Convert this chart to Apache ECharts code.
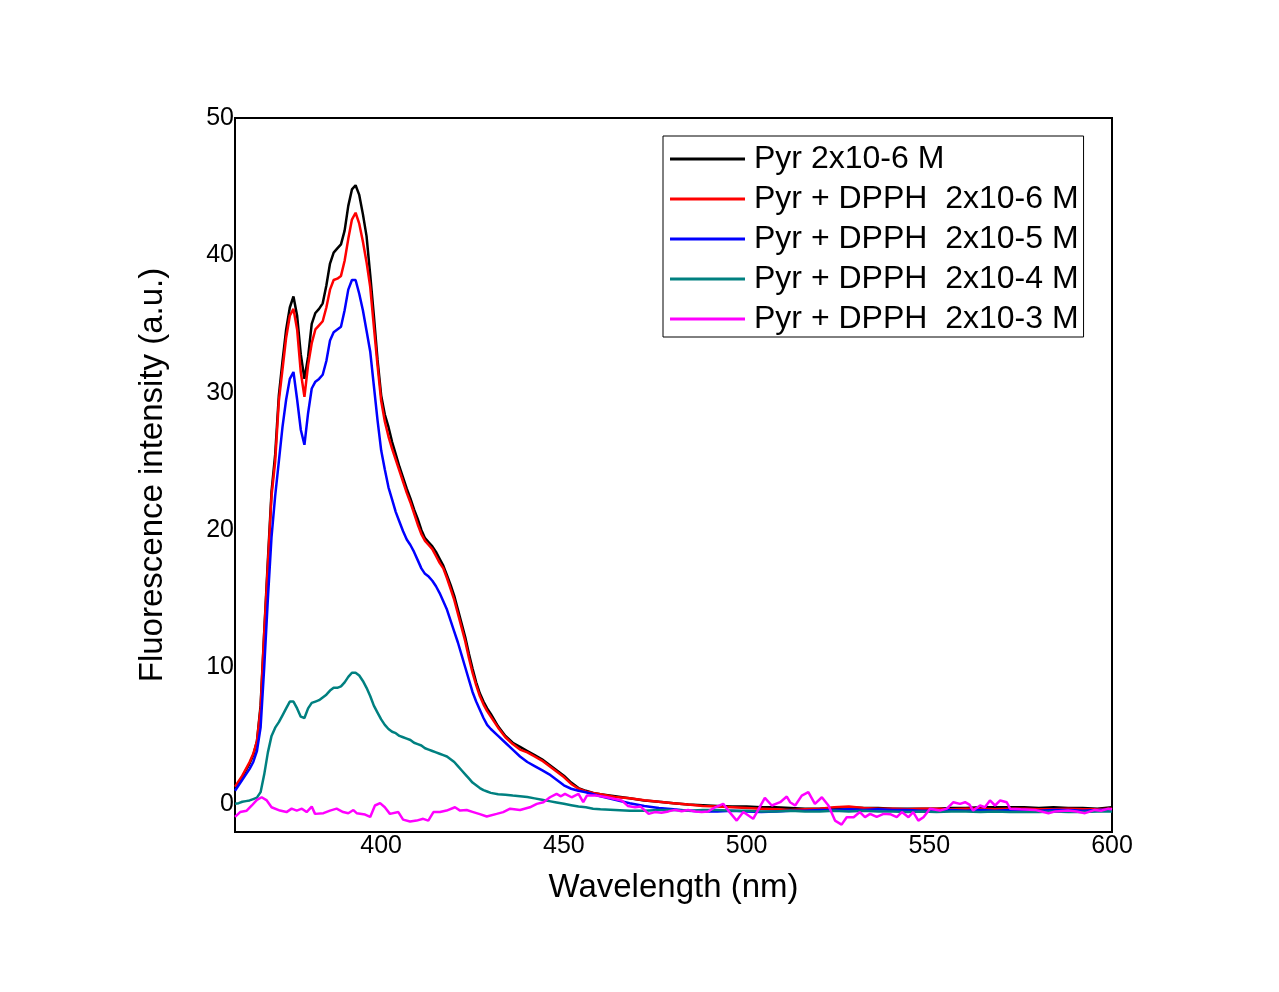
<!DOCTYPE html>
<html>
<head>
<meta charset="utf-8">
<script src="https://cdn.jsdelivr.net/npm/echarts@6/dist/echarts.min.js"></script>
<style>
  html, body { margin: 0; padding: 0; background: #fff; }
  #chart { width: 1279px; height: 992px; }
</style>
</head>
<body>
<div id="chart"></div>
<script>
// wavelength grid (nm) shared by the four smooth spectra
const wavelength = [
  360, 361, 362, 363, 364, 365, 366, 367, 368, 369,
  370, 371, 372, 373, 374, 375, 376, 377, 378, 379,
  380, 381, 382, 383, 384, 385, 386, 387, 388, 389,
  390, 391, 392, 393, 394, 395, 396, 397, 398, 399,
  400, 401, 402, 403, 404, 405, 406, 407, 408, 409,
  410, 411, 412, 413, 414, 415, 416, 417, 418, 419,
  420, 421, 422, 423, 424, 425, 426, 427, 428, 429, 430,
  432, 434, 436, 438, 440, 442, 444, 446, 448, 450, 452, 454, 456, 458, 460,
  464, 468, 472, 476, 480, 484, 488, 492, 496, 500, 504, 508, 512, 516, 520,
  524, 528, 532, 536, 540, 544, 548, 552, 556, 560, 564, 568, 572, 576, 580,
  584, 588, 592, 596, 600
]

const pyr = [
  1.2, 1.6, 2.0, 2.5, 3.0, 3.6, 4.6, 7.2, 12.6, 17.8,
  22.8, 25.5, 29.8, 32.3, 34.6, 36.2, 37.0, 35.6, 32.8, 31.0,
  32.6, 35.0, 35.8, 36.1, 36.5, 37.8, 39.4, 40.2, 40.5, 40.8,
  41.8, 43.6, 44.8, 45.1, 44.4, 43.0, 41.4, 38.6, 35.6, 32.4,
  29.8, 28.4, 27.5, 26.4, 25.5, 24.6, 23.8, 23.0, 22.3, 21.5,
  20.8, 20.0, 19.4, 19.1, 18.8, 18.4, 17.9, 17.4, 16.7, 16.0,
  15.2, 14.2, 13.2, 12.2, 11.0, 9.9, 8.9, 8.1, 7.5, 7.0, 6.6,
  5.7, 5.0, 4.5, 4.2, 3.9, 3.6, 3.3, 2.9, 2.5, 2.1, 1.6, 1.2, 1.0, 0.85, 0.75,
  0.6, 0.45, 0.3, 0.2, 0.1, 0.0, -0.05, -0.1, -0.15, -0.15, -0.2, -0.2, -0.25, -0.3, -0.3,
  -0.25, -0.2, -0.25, -0.25, -0.3, -0.3, -0.3, -0.3, -0.25, -0.25, -0.2, -0.2, -0.2, -0.2, -0.25,
  -0.2, -0.25, -0.25, -0.3, -0.2
]

const dpph6 = [
  1.3, 1.7, 2.1, 2.6, 3.1, 3.7, 4.6, 7.0, 12.5, 17.5,
  22.5, 25.0, 29.4, 31.7, 34.0, 35.6, 36.1, 34.6, 31.5, 29.7,
  32.0, 33.6, 34.6, 34.9, 35.2, 36.2, 37.5, 38.2, 38.3, 38.5,
  39.6, 41.2, 42.6, 43.1, 42.3, 41.0, 39.5, 37.7, 34.8, 32.0,
  29.4, 27.9, 26.8, 25.9, 25.1, 24.3, 23.5, 22.7, 22.0, 21.2,
  20.4, 19.7, 19.2, 18.9, 18.6, 18.1, 17.6, 17.2, 16.5, 15.7,
  14.9, 13.9, 12.9, 11.9, 10.7, 9.6, 8.7, 7.9, 7.3, 6.8, 6.4,
  5.6, 4.9, 4.4, 4.0, 3.8, 3.5, 3.2, 2.8, 2.4, 2.0, 1.5, 1.15, 0.95, 0.85, 0.75,
  0.55, 0.45, 0.32, 0.2, 0.1, 0.0, -0.1, -0.15, -0.2, -0.25, -0.3, -0.35, -0.4, -0.35, -0.3,
  -0.2, -0.15, -0.25, -0.3, -0.3, -0.35, -0.3, -0.3, -0.35, -0.3, -0.3, -0.35, -0.3, -0.3, -0.35,
  -0.35, -0.3, -0.35, -0.35, -0.3
]

const dpph5 = [
  1.0, 1.4, 1.8, 2.2, 2.6, 3.1, 3.9, 5.6, 10.0, 15.0,
  19.5, 22.5, 25.0, 27.5, 29.5, 31.0, 31.5, 29.5, 27.3, 26.2,
  28.5, 30.3, 30.8, 31.0, 31.3, 32.3, 33.8, 34.4, 34.6, 34.8,
  36.0, 37.5, 38.2, 38.2, 37.2, 36.0, 34.5, 33.0, 30.5, 28.0,
  25.8, 24.4, 23.1, 22.2, 21.3, 20.6, 19.9, 19.3, 18.9, 18.4,
  17.8, 17.2, 16.8, 16.6, 16.3, 15.9, 15.4, 14.8, 14.2, 13.4,
  12.6, 11.8, 10.9, 10.0, 9.1, 8.2, 7.5, 6.9, 6.3, 5.8, 5.5,
  5.0, 4.5, 4.0, 3.5, 3.1, 2.8, 2.5, 2.2, 1.8, 1.4, 1.15, 1.0, 0.9, 0.75, 0.6,
  0.35, 0.1, -0.1, -0.25, -0.35, -0.45, -0.5, -0.5, -0.45, -0.5, -0.55, -0.5, -0.45, -0.45, -0.4,
  -0.4, -0.35, -0.4, -0.35, -0.4, -0.4, -0.45, -0.45, -0.4, -0.45, -0.4, -0.45, -0.4, -0.4, -0.45,
  -0.4, -0.4, -0.45, -0.4, -0.35
]

const dpph4 = [
  0.05, 0.1, 0.2, 0.25, 0.3, 0.4, 0.5, 0.9, 2.2, 3.8,
  5.0, 5.6, 6.0, 6.5, 7.0, 7.5, 7.5, 7.0, 6.4, 6.3,
  7.0, 7.4, 7.5, 7.6, 7.8, 8.0, 8.3, 8.5, 8.5, 8.6,
  8.9, 9.3, 9.6, 9.6, 9.4, 9.0, 8.5, 7.9, 7.2, 6.7,
  6.2, 5.8, 5.5, 5.3, 5.2, 5.0, 4.9, 4.8, 4.7, 4.5,
  4.4, 4.3, 4.1, 4.0, 3.9, 3.8, 3.7, 3.6, 3.5, 3.3,
  3.1, 2.8, 2.5, 2.2, 1.9, 1.6, 1.4, 1.2, 1.05, 0.95, 0.85,
  0.75, 0.72, 0.65, 0.6, 0.55, 0.45, 0.35, 0.25, 0.15, 0.05, -0.05, -0.15, -0.2, -0.3, -0.35,
  -0.4, -0.45, -0.45, -0.4, -0.4, -0.45, -0.4, -0.4, -0.45, -0.45, -0.5, -0.5, -0.45, -0.5, -0.5,
  -0.45, -0.5, -0.45, -0.5, -0.5, -0.55, -0.5, -0.55, -0.5, -0.5, -0.55, -0.5, -0.55, -0.55, -0.55,
  -0.5, -0.55, -0.55, -0.5, -0.5
]

// the noisy 2x10-3 M trace has its own, finer wavelength grid
const wavelength3 = [
  360, 361.4, 363.2, 364.6, 366, 367.3, 368.7, 370, 372.3, 374.1,
  375.5, 376.9, 378.3, 379.6, 381, 381.9, 384.2, 386, 387.8, 389.6,
  391, 392.4, 393.3, 395.6, 397, 398.3, 399.7, 401, 402.4, 404.7,
  406, 407.9, 409.7, 411.5, 412.9, 414.3, 416.1, 417.9, 420.2, 421.6,
  423.4, 425.2, 427, 428.9, 431.6, 433.4, 435.3, 438, 440.7, 442.6,
  444.4, 446.2, 448, 449.2, 450.3, 452.1, 454, 455.3, 456.3, 459,
  461.7, 464, 465.8, 467.5, 469.5, 471, 473.2, 474.9, 476.7, 478.6,
  480.4, 482.2, 484, 486, 487.7, 489.5, 491.4, 493.6, 495, 497.3,
  499.1, 501.8, 505, 506.9, 509.2, 511, 511.9, 513.3, 515.1, 516.9,
  518.7, 520.6, 522.4, 524.2, 526, 527.4, 529.3, 531, 532.4, 533.8,
  535.6, 537.5, 539.3, 541.1, 542.5, 544.3, 545.6, 547, 548.4, 550.2,
  552.9, 554.8, 556.6, 558.4, 559.8, 561, 562, 563.9, 565.2, 566.6,
  568, 569.4, 571.2, 572.1, 575, 578.9, 582.6, 584.5, 588, 590.3,
  592.6, 595.3, 597, 599, 600
]

const dpph3 = [
  -0.9, -0.55, -0.45, -0.07, 0.34, 0.53, 0.3, -0.2, -0.44, -0.55,
  -0.3, -0.44, -0.3, -0.55, -0.15, -0.68, -0.63, -0.44, -0.3, -0.55,
  -0.63, -0.4, -0.63, -0.73, -0.9, -0.07, 0.1, -0.2, -0.68, -0.55,
  -1.1, -1.24, -1.17, -1.04, -1.17, -0.55, -0.55, -0.44, -0.2, -0.44,
  -0.4, -0.55, -0.7, -0.87, -0.68, -0.55, -0.3, -0.4, -0.2, 0.05,
  0.17, 0.53, 0.78, 0.6, 0.78, 0.53, 0.78, 0.17, 0.65, 0.65,
  0.53, 0.4, 0.3, -0.1, -0.2, -0.15, -0.68, -0.55, -0.6, -0.5,
  -0.39, -0.49, -0.4, -0.5, -0.55, -0.5, -0.2, 0.05, -0.44, -1.17,
  -0.55, -1.04, 0.49, -0.07, 0.17, 0.58, 0.17, -0.07, 0.65, 0.9,
  0.05, 0.53, -0.07, -1.17, -1.46, -0.92, -0.92, -0.55, -0.92, -0.68,
  -0.9, -0.68, -0.7, -0.92, -0.55, -0.92, -0.55, -1.17, -0.92, -0.3,
  -0.44, -0.3, 0.17, 0.05, 0.17, 0.0, -0.44, -0.07, -0.2, 0.3,
  -0.07, 0.3, 0.17, -0.3, -0.35, -0.39, -0.63, -0.5, -0.44, -0.5,
  -0.63, -0.39, -0.45, -0.3, -0.35
]

const seriesNames = [
  'Pyr 2x10-6 M',
  'Pyr + DPPH  2x10-6 M',
  'Pyr + DPPH  2x10-5 M',
  'Pyr + DPPH  2x10-4 M',
  'Pyr + DPPH  2x10-3 M'
]
const seriesColors = ['#000000', '#ff0000', '#0000ff', '#008080', '#ff00ff']
const yTicks = [0, 10, 20, 30, 40, 50]
const xTicks = [400, 450, 500, 550, 600]

const zip = (xs, ys) => xs.map((x, i) => [x, ys[i]])
const traces = [
  zip(wavelength, pyr),
  zip(wavelength, dpph6),
  zip(wavelength, dpph5),
  zip(wavelength, dpph4),
  zip(wavelength3, dpph3)
]

const font = 'Liberation Sans, Arial, sans-serif'
const chart = echarts.init(document.getElementById('chart'))

chart.setOption({
  animation: false,
  backgroundColor: '#ffffff',
  grid: {
    left: 235, right: 167, top: 118, bottom: 160,
    show: true, borderColor: '#000', borderWidth: 2
  },
  legend: {
    left: 663, top: 136,
    orient: 'vertical',
    padding: [5, 5, 0, 7],
    borderColor: '#000', borderWidth: 1,
    itemWidth: 75, itemHeight: 3, itemGap: 4,
    icon: 'rect',
    textStyle: { fontFamily: font, fontSize: 32, color: '#000', lineHeight: 36, padding: [0, 0, 0, 4] },
    data: seriesNames
  },
  xAxis: {
    type: 'value',
    min: 360, max: 600,
    name: 'Wavelength (nm)',
    nameLocation: 'middle',
    nameGap: 39,
    nameTextStyle: { fontFamily: font, fontSize: 33, color: '#000' },
    axisLine: { onZero: false, lineStyle: { color: '#000', width: 2 } },
    axisTick: { show: false },
    splitLine: { show: false },
    axisLabel: {
      customValues: xTicks,
      margin: 2,
      fontFamily: font, fontSize: 25, color: '#000'
    }
  },
  yAxis: {
    type: 'value',
    min: -2, max: 50,
    name: 'Fluorescence intensity (a.u.)',
    nameLocation: 'middle',
    nameGap: 66,
    nameTextStyle: { fontFamily: font, fontSize: 33, color: '#000' },
    axisLine: { show: true, onZero: false, lineStyle: { color: '#000', width: 2 } },
    axisTick: { show: false },
    splitLine: { show: false },
    axisLabel: {
      customValues: yTicks,
      margin: 1,
      fontFamily: font, fontSize: 25, color: '#000'
    }
  },
  series: traces.map((d, i) => ({
    name: seriesNames[i],
    type: 'line',
    data: d,
    symbol: 'none',
    lineStyle: { color: seriesColors[i], width: 2.5 },
    itemStyle: { color: seriesColors[i] }
  }))
})
</script>
</body>
</html>
